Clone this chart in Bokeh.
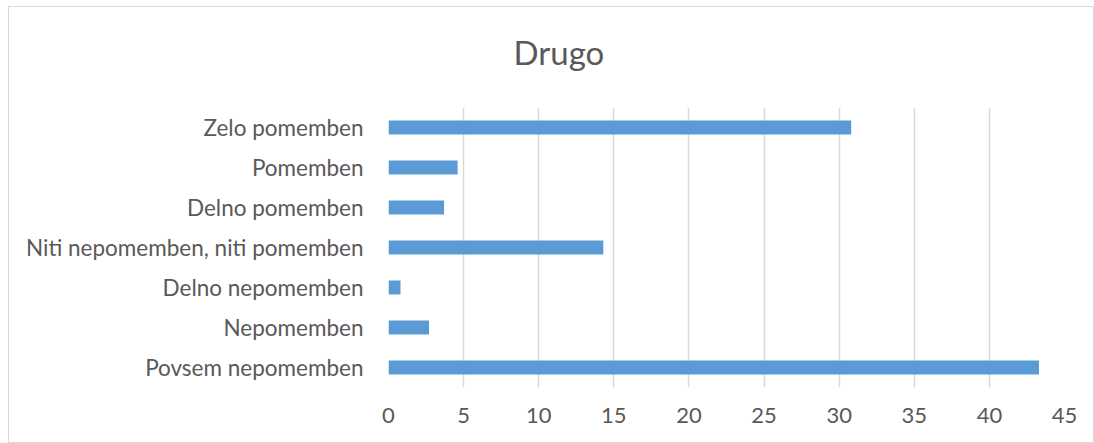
from bokeh.plotting import figure
from bokeh.models import FactorRange, Range1d, FixedTicker, ColumnDataSource, Title
from bokeh.embed import file_html
from bokeh.resources import INLINE

categories = ["Zelo pomemben", "Pomemben", "Delno pomemben",
              "Niti nepomemben, niti pomemben", "Delno nepomemben",
              "Nepomemben", "Povsem nepomemben"]
values = [30.8, 4.6, 3.7, 14.3, 0.8, 2.7, 43.3]
x_ticks = [0, 5, 10, 15, 20, 25, 30, 35, 40, 45]
title_text = "Drugo"

FONT = "Lato"
TEXT_COLOR = "#595959"
BAR_COLOR = "#5B9BD5"
GRID_COLOR = "#D9D9D9"

source = ColumnDataSource(dict(cat=categories, val=values))

p = figure(width=1086, height=437, output_backend="svg", toolbar_location=None,
           y_range=FactorRange(factors=list(reversed(categories))),
           x_range=Range1d(0, 45), title=title_text,
           min_border_left=379, min_border_right=31,
           min_border_top=100, min_border_bottom=57)

# invisible spacer between the title and the plot frame
p.add_layout(Title(text=" ", text_font_size="1px", standoff=11), "above")

p.hbar(y="cat", right="val", left=0, height=0.35, source=source,
       fill_color=BAR_COLOR, line_color=None)

p.title.align = "left"
p.title.offset = 125
p.title.text_font = FONT
p.title.text_font_size = "33px"
p.title.text_font_style = "normal"
p.title.text_color = TEXT_COLOR
p.title.standoff = 44

p.outline_line_color = None
p.styles = {"border": "1px solid #D9D9D9", "box-sizing": "border-box",
            "margin-left": "8px", "margin-top": "6px"}

p.xaxis.ticker = FixedTicker(ticks=x_ticks)
p.xaxis.axis_line_color = None
p.xaxis.major_tick_line_color = None
p.xaxis.minor_tick_line_color = None
p.xaxis.major_label_text_font = FONT
p.xaxis.major_label_text_font_size = "22px"
p.xaxis.major_label_text_color = TEXT_COLOR
p.xaxis.major_label_standoff = 14

p.yaxis.axis_line_color = None
p.yaxis.major_tick_line_color = None
p.yaxis.minor_tick_line_color = None
p.yaxis.major_label_text_font = FONT
p.yaxis.major_label_text_font_size = "22.5px"
p.yaxis.major_label_text_color = TEXT_COLOR
p.yaxis.major_label_standoff = 19

p.ygrid.grid_line_color = None
p.xgrid.grid_line_color = GRID_COLOR
p.xgrid.grid_line_width = 1.5

open("out.html", "w").write(file_html(p, INLINE))
